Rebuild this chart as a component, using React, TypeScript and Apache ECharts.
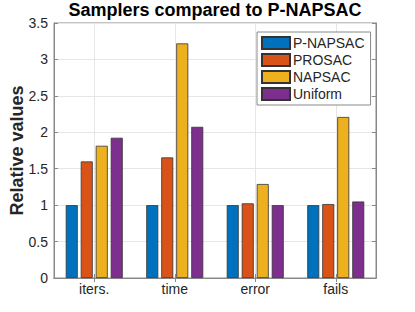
import React, { useEffect, useRef } from "react";
import * as echarts from "echarts";

const categories = ["iters.", "time", "error", "fails"];
const seriesNames = ["P-NAPSAC", "PROSAC", "NAPSAC", "Uniform"];
const pNapsac = [1, 1, 1, 1];
const prosac = [1.6, 1.655, 1.025, 1.015];
const napsac = [1.815, 3.22, 1.29, 2.21];
const uniform = [1.925, 2.075, 1.0, 1.05];
const colors = ["#0072BD", "#D95319", "#EDB120", "#7E2F8E"];
const title = "Samplers compared to P-NAPSAC";
const yLabel = "Relative values";

export default function App() {
  const ref = useRef<HTMLDivElement>(null);
  useEffect(() => {
    if (!ref.current) return;
    const chart = echarts.init(ref.current, undefined, { renderer: "svg" });
    const values = [pNapsac, prosac, napsac, uniform];
    const font = "'Liberation Sans', Arial, Helvetica, sans-serif";
    const axisColor = "#888888";
    const textColor = "#262626";
    chart.setOption({
      animation: false,
      backgroundColor: "#ffffff",
      textStyle: { fontFamily: font },
      title: {
        text: title,
        left: 215,
        textAlign: "center",
        top: 0,
        padding: 0,
        textStyle: { fontSize: 18, fontWeight: "bold", color: "#000", fontFamily: font, lineHeight: 20 },
      },
      legend: {
        data: seriesNames,
        orient: "vertical",
        left: 257,
        top: 32,
        icon: "rect",
        itemWidth: 28,
        itemHeight: 12,
        itemGap: 3,
        padding: [4, 6, 4, 4],
        backgroundColor: "#ffffff",
        borderColor: axisColor,
        borderWidth: 1,
        textStyle: { fontSize: 14, color: textColor, fontFamily: font, padding: [0, 0, 0, -2] },
      },
      grid: {
        left: 54,
        right: 39,
        top: 23,
        bottom: 34,
        show: true,
        borderColor: axisColor,
        borderWidth: 1,
        outerBoundsMode: "none",
      },
      xAxis: [
        {
          type: "category",
          data: categories,
          position: "bottom",
          axisLine: { show: true, lineStyle: { color: axisColor, width: 1 } },
          axisTick: { show: true, inside: true, alignWithLabel: true, length: 4, lineStyle: { color: axisColor } },
          axisLabel: { fontSize: 14, color: textColor, margin: 4, fontFamily: font },
          splitLine: { show: true, alignWithLabel: true, lineStyle: { color: "#e6e6e6", width: 1 } },
        },
        {
          type: "category",
          data: categories,
          position: "top",
          axisLine: { show: true, lineStyle: { color: axisColor, width: 1 } },
          axisTick: { show: true, inside: true, alignWithLabel: true, length: 4, lineStyle: { color: axisColor } },
          axisLabel: { show: false },
          splitLine: { show: false },
        },
      ],
      yAxis: [
        {
          type: "value",
          min: 0,
          max: 3.5,
          interval: 0.5,
          name: yLabel,
          nameLocation: "middle",
          nameGap: 28,
          nameMoveOverlap: false,
          nameTextStyle: { fontSize: 18, fontWeight: "bold", color: textColor, fontFamily: font },
          axisLine: { show: true, lineStyle: { color: axisColor, width: 1 } },
          axisTick: { show: true, inside: true, length: 4, lineStyle: { color: axisColor } },
          axisLabel: { fontSize: 14, color: textColor, margin: 6, fontFamily: font },
          splitLine: { show: true, lineStyle: { color: "#e6e6e6", width: 1 } },
        },
        {
          type: "value",
          position: "right",
          min: 0,
          max: 3.5,
          interval: 0.5,
          axisLine: { show: true, lineStyle: { color: axisColor, width: 1 } },
          axisTick: { show: true, inside: true, length: 4, lineStyle: { color: axisColor } },
          axisLabel: { show: false },
          splitLine: { show: false },
        },
      ],
      series: seriesNames.map((name, i) => ({
        name,
        type: "bar",
        xAxisIndex: 0,
        yAxisIndex: 0,
        data: values[i],
        barWidth: 12,
        barGap: "25%",
        itemStyle: { color: colors[i], borderColor: "#333333", borderWidth: 0.8 },
      })),
    });
    return () => chart.dispose();
  }, []);
  return (
    <div
      ref={ref}
      style={{ position: "fixed", left: 0, top: 0, width: 415, height: 312 }}
    />
  );
}
